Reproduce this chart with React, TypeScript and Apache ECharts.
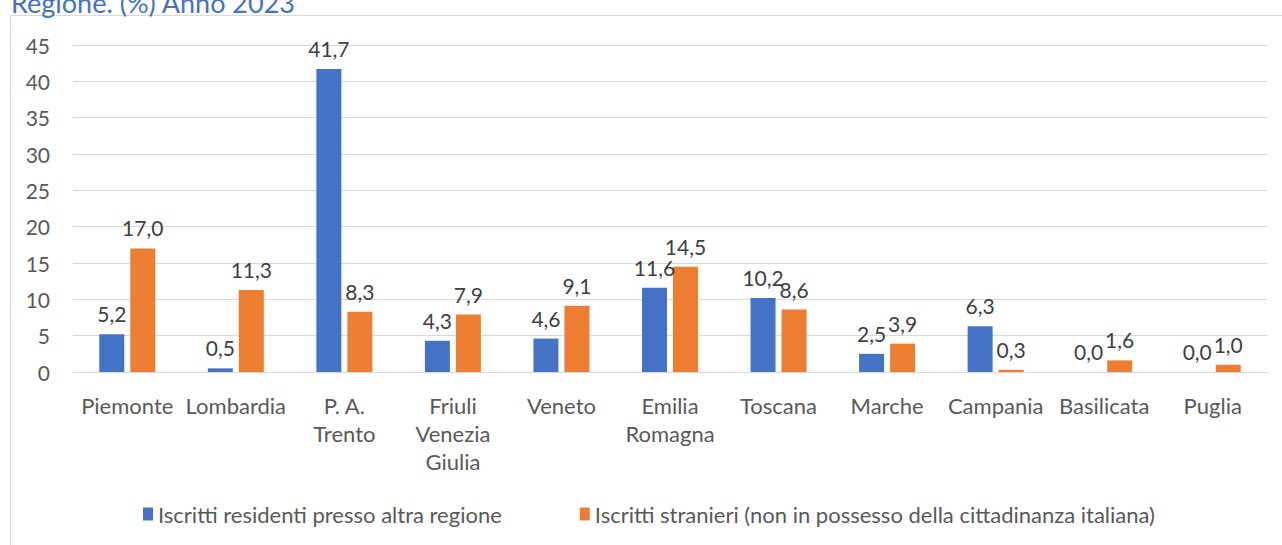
import React, { useEffect, useRef } from "react";
import * as echarts from "echarts";

const categories = [
  "Piemonte",
  "Lombardia",
  "P. A.\nTrento",
  "Friuli\nVenezia\nGiulia",
  "Veneto",
  "Emilia\nRomagna",
  "Toscana",
  "Marche",
  "Campania",
  "Basilicata",
  "Puglia",
];
const residentiAltraRegione = [5.2, 0.5, 41.7, 4.3, 4.6, 11.6, 10.2, 2.5, 6.3, 0.0, 0.0];
const stranieri = [17.0, 11.3, 8.3, 7.9, 9.1, 14.5, 8.6, 3.9, 0.3, 1.6, 1.0];
const seriesNames = [
  "Iscritti residenti presso altra regione",
  "Iscritti stranieri (non in possesso della cittadinanza italiana)",
];
const titleText = "Regione. (%) Anno 2023";

const FONT = "Lato, 'Liberation Sans', sans-serif";

export default function App() {
  const ref = useRef<HTMLDivElement>(null);
  useEffect(() => {
    if (!ref.current) return;
    const chart = echarts.init(ref.current, undefined, { renderer: "svg" });
    const labelCfg = {
      show: true,
      position: "top" as const,
      distance: 10,
      color: "#404040",
      fontSize: 21,
      fontFamily: FONT,
      formatter: (p: any) => Number(p.value).toFixed(1).replace(".", ","),
    };
    chart.setOption({
      animation: false,
      textStyle: { fontFamily: FONT },
      graphic: [
        {
          type: "rect",
          z: -1,
          shape: { x: 10.5, y: 15.5, width: 1300, height: 600 },
          style: { fill: "none", stroke: "#d9d9d9", lineWidth: 1 },
        },
        {
          type: "text",
          x: 11,
          y: -11,
          style: {
            text: titleText,
            fill: "#4472C4",
            fontSize: 27,
            fontFamily: FONT,
          },
        },
      ],
      grid: { left: 73, right: 15, top: 45, bottom: 173, containLabel: false },
      legend: {
        bottom: 15,
        left: 138,
        itemWidth: 10,
        itemHeight: 13,
        itemGap: 78,
        icon: "rect",
        textStyle: { color: "#595959", fontSize: 22, fontFamily: FONT },
        data: seriesNames,
      },
      xAxis: {
        type: "category",
        data: categories,
        axisLine: { lineStyle: { color: "#d9d9d9", width: 1 } },
        axisTick: { show: false },
        axisLabel: {
          color: "#595959",
          fontSize: 22,
          fontFamily: FONT,
          margin: 19,
          lineHeight: 28,
          interval: 0,
        },
      },
      yAxis: {
        type: "value",
        min: 0,
        max: 45,
        interval: 5,
        axisLine: { show: false },
        axisTick: { show: false },
        splitLine: { lineStyle: { color: "#d9d9d9", width: 1 } },
        axisLabel: { color: "#595959", fontSize: 21, fontFamily: FONT, margin: 23 },
      },
      series: [
        {
          name: seriesNames[0],
          type: "bar",
          data: residentiAltraRegione,
          barWidth: 25,
          barGap: "24%",
          itemStyle: { color: "#4472C4" },
          label: labelCfg,
        },
        {
          name: seriesNames[1],
          type: "bar",
          data: stranieri,
          barWidth: 25,
          itemStyle: { color: "#ED7D31" },
          label: labelCfg,
        },
      ],
    });
    return () => chart.dispose();
  }, []);
  return (
    <div
      ref={ref}
      style={{ position: "absolute", left: 0, top: 0, width: 1282, height: 545, background: "#fff" }}
    />
  );
}
